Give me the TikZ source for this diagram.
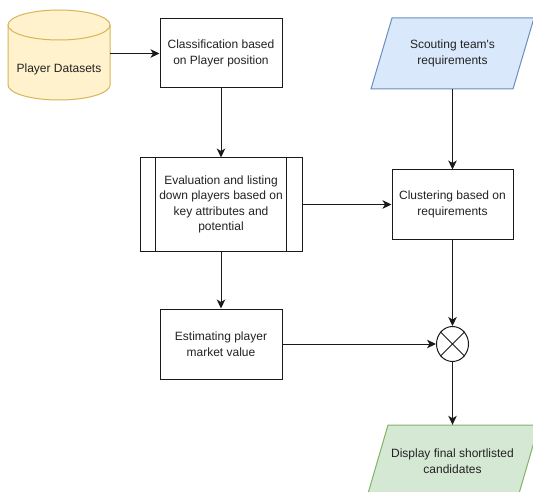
\documentclass[tikz,border=0pt]{standalone}
\usepackage{fontspec}
\setmainfont{Liberation Sans}[Ligatures=TeXOff]
\usetikzlibrary{arrows.meta,shapes.geometric}
\definecolor{textc}{HTML}{222222}
\definecolor{linec}{HTML}{1A1A1A}
\definecolor{cylfill}{HTML}{FFF2CC}
\definecolor{cyldraw}{HTML}{D6B656}
\definecolor{bluefill}{HTML}{DAE8FC}
\definecolor{bluedraw}{HTML}{6C8EBF}
\definecolor{greenfill}{HTML}{D5E8D4}
\definecolor{greendraw}{HTML}{82B366}
\tikzset{
  txt/.style={align=center, inner sep=0pt, text=textc, font=\fontsize{12}{15.5}\selectfont},
  box/.style={txt, draw=linec, line width=1pt, fill=white},
  arr/.style={-{Stealth[length=9pt,width=8.5pt,inset=2.5pt]}, line width=1pt, draw=linec},
}
\begin{document}
\begin{tikzpicture}[x=1pt,y=-1pt]
\useasboundingbox (0,0) rectangle (533,492);
\clip (0,0) rectangle (533,492);
\fill[white] (0,0) rectangle (533,492);
% cylinder
\fill[cylfill] (8,25) rectangle (110,85);
\fill[cylfill] (59,85) ellipse [x radius=51pt, y radius=15pt];
\draw[cyldraw, line width=1pt] (8,25) -- (8,85) arc[start angle=180, end angle=360, x radius=51pt, y radius=15pt] -- (110,25);
\filldraw[fill=cylfill, draw=cyldraw, line width=1pt] (59,25) ellipse [x radius=51pt, y radius=15pt];
\node[txt, minimum width=102pt, minimum height=60pt] (cyl) at (59,69) {Player Datasets};
% parallelograms
\filldraw[fill=bluefill, draw=bluedraw, line width=1pt] (392,18) -- (534,18) -- (513,89) -- (371,89) -- cycle;
\node[txt, minimum width=120pt, minimum height=71pt] (scout) at (452.5,53.5) {Scouting team's\\requirements};
\filldraw[fill=greenfill, draw=greendraw, line width=1pt] (388,425) -- (539,425) -- (518,497) -- (367,497) -- cycle;
\node[txt, minimum width=130pt, minimum height=72pt] (disp) at (452.5,461) {Display final shortlisted\\candidates};
% boxes
\node[box, minimum width=122pt, minimum height=69pt] (cls) at (221,53.5) {Classification based\\on Player position};
\node[box, minimum width=162pt, minimum height=93pt] (eval) at (221,204.5) {Evaluation and listing\\down players based on\\key attributes and\\potential};
\draw[linec, line width=1pt] ([xshift=16pt]eval.north west) -- ([xshift=16pt]eval.south west);
\draw[linec, line width=1pt] ([xshift=-16pt]eval.north east) -- ([xshift=-16pt]eval.south east);
\node[box, minimum width=122pt, minimum height=70pt] (est) at (221,344) {Estimating player\\market value};
\node[box, minimum width=121pt, minimum height=69pt] (clu) at (452.5,204.5) {Clustering based on\\requirements};
\node[draw=linec, line width=1pt, fill=white, ellipse, inner sep=0pt, minimum width=32pt, minimum height=35pt] (cross) at (452.5,344) {};
\draw[linec, line width=1pt] (cross.45) -- (cross.225);
\draw[linec, line width=1pt] (cross.135) -- (cross.315);
% connectors
\draw[arr] (cyl.east |- cls.west) -- (cls.west);
\draw[arr] (cls) -- (eval);
\draw[arr] (eval) -- (est);
\draw[arr] (eval) -- (clu);
\draw[arr] (scout.south) -- (clu.north);
\draw[arr] (clu.south) -- (cross.north);
\draw[arr] (est) -- (cross);
\draw[arr] (cross.south) -- (disp.north);
\end{tikzpicture}
\end{document}
